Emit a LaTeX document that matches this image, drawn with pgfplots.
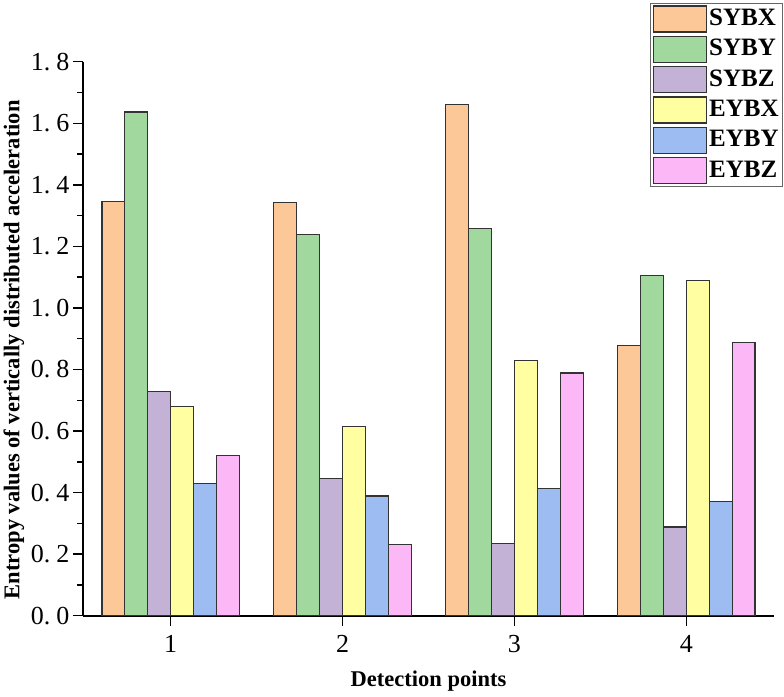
\documentclass[border=0pt]{standalone}
\usepackage{fontspec}
\setmainfont{Liberation Serif}
\usepackage{pgfplots}
\usepackage{pgfplotstable}
\pgfplotsset{compat=1.18}

\definecolor{cSYBX}{RGB}{253,200,152}
\definecolor{cSYBY}{RGB}{160,216,158}
\definecolor{cSYBZ}{RGB}{195,178,214}
\definecolor{cEYBX}{RGB}{255,254,160}
\definecolor{cEYBY}{RGB}{156,188,242}
\definecolor{cEYBZ}{RGB}{252,184,246}

% entropy values at the four detection points
\pgfplotstableread{
x SYBX SYBY SYBZ EYBX EYBY EYBZ
1 1.345 1.637 0.729 0.680 0.429 0.520
2 1.343 1.238 0.445 0.615 0.389 0.232
3 1.660 1.258 0.234 0.829 0.414 0.789
4 0.877 1.106 0.288 1.088 0.371 0.888
}\entropy

\begin{document}
\begin{tikzpicture}
\begin{axis}[
  scale only axis, width=691pt, height=554pt,
  xmin=0.49, xmax=4.51, ymin=0, ymax=1.8,
  ybar=0pt, bar width=0.1333,
  axis x line*=bottom, axis y line*=left,
  axis line style={line width=1.6pt, -},
  xtick={1,2,3,4},
  ytick={0,0.2,0.4,0.6,0.8,1.0,1.2,1.4,1.6,1.8},
  minor y tick num=1,
  tick align=outside,
  major tick length=10pt, minor tick length=6pt,
  tick style={line width=1.4pt, black},
  /pgf/number format/assume math mode=true,
  yticklabel style={/pgf/number format/.cd, fixed, fixed zerofill, precision=1, dec sep={.\hspace{6pt}}},
  ticklabel style={font=\fontsize{26}{30}\selectfont},
  xticklabel style={yshift=-6pt},
  xlabel={Detection points},
  ylabel={Entropy values of vertically distributed acceleration},
  label style={font=\bfseries\fontsize{22.5}{27}\selectfont},
  xlabel style={at={(axis description cs:0.5,-0.118)}, anchor=center},
  ylabel style={at={(axis description cs:-0.1,0.48)}, anchor=center, rotate=0},
  every axis plot/.append style={draw=black!80, line width=1.3pt},
  legend image code/.code={\draw[#1, line width=1.3pt] (0pt,-13pt) rectangle (53pt,13pt);},
  legend cell align=left,
  legend style={at={(1,1)}, anchor=north east, xshift=9pt, yshift=58.7pt,
    draw=black!60, line width=0.8pt,
    font=\bfseries\fontsize{25}{29}\selectfont,
    inner xsep=2pt, inner ysep=2pt, row sep=3pt,
    nodes={text height=17pt, text depth=4pt, inner sep=2pt}},
]
\addplot[fill=cSYBX] table[x=x, y=SYBX] {\entropy};
\addplot[fill=cSYBY] table[x=x, y=SYBY] {\entropy};
\addplot[fill=cSYBZ] table[x=x, y=SYBZ] {\entropy};
\addplot[fill=cEYBX] table[x=x, y=EYBX] {\entropy};
\addplot[fill=cEYBY] table[x=x, y=EYBY] {\entropy};
\addplot[fill=cEYBZ] table[x=x, y=EYBZ] {\entropy};
\legend{SYBX, SYBY, SYBZ, EYBX, EYBY, EYBZ}
\end{axis}
\pgfresetboundingbox
\path[use as bounding box] ([xshift=-83pt,yshift=-80.5pt]current axis.south west) rectangle ([xshift=10pt,yshift=61.7pt]current axis.north east);
\end{tikzpicture}
\end{document}
